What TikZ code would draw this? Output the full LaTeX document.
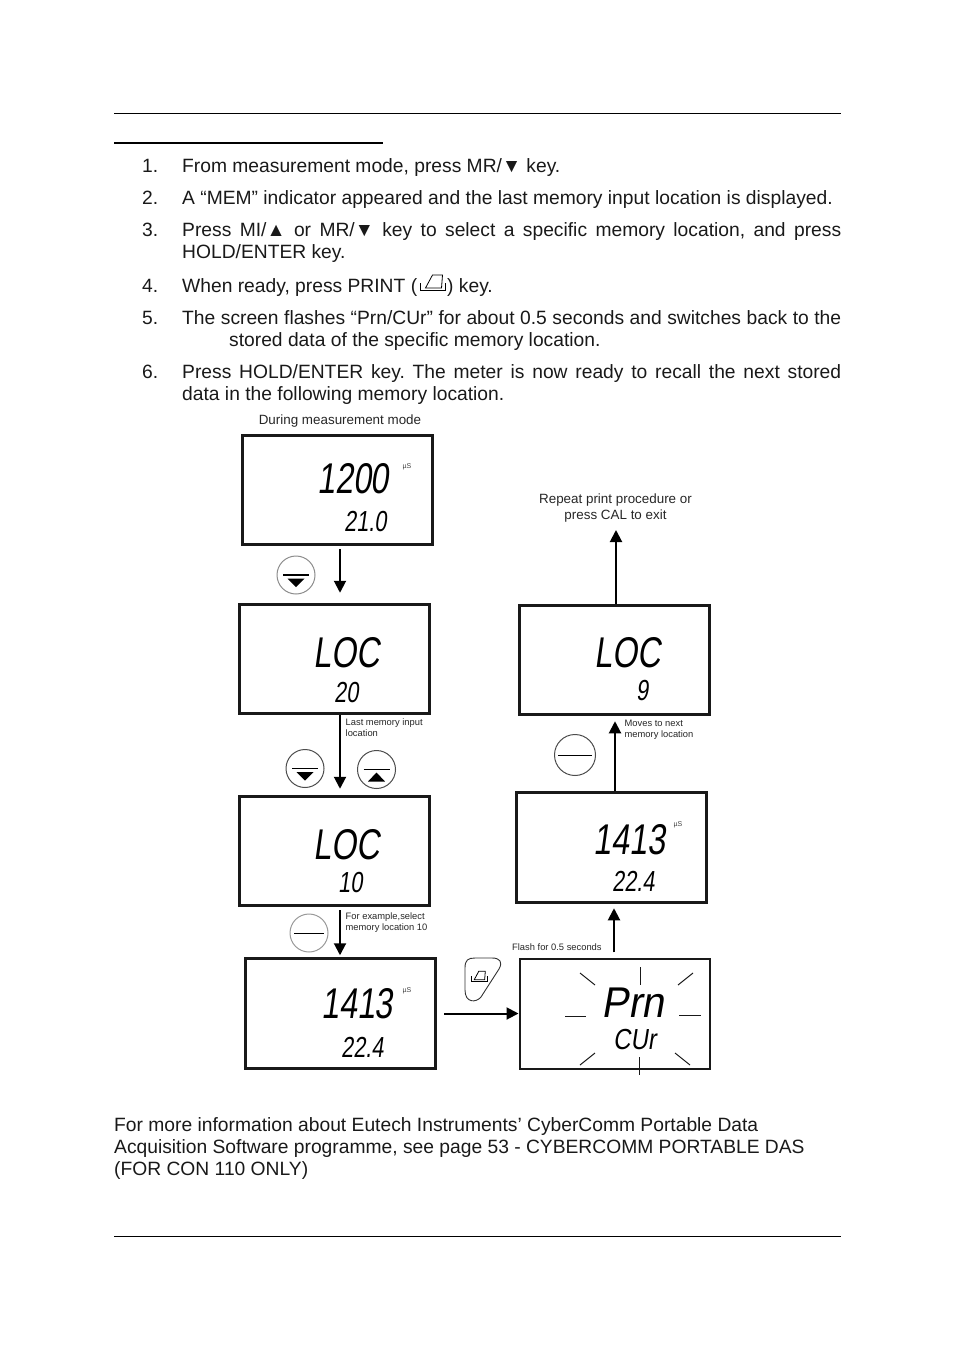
\documentclass[tikz,border=0pt]{standalone}
\usepackage{fontspec}
\setmainfont{Liberation Sans}
\newfontfamily\lcdfont[FakeStretch=0.75,FakeSlant=0.14]{Liberation Sans}
\usetikzlibrary{arrows.meta}
\frenchspacing
\newcommand{\printicon}[3]{%
  \begin{scope}[shift={(#1,#2)},scale=#3]
    \draw[line width=0.8pt] (0,-7) -- (0,0) -- (25,0) -- (25,-7);
    \draw[line width=0.8pt] (5,-2) -- (12,-15) -- (22,-15) -- (21,-2) -- cycle;
  \end{scope}}

\begin{document}
\begin{tikzpicture}[
  x=1pt,
  y=-1pt,
  line join=miter,
  body/.style={anchor=base west,inner sep=0pt,font=\fontsize{19.25}{22}\selectfont,text=black!90},
  caption/.style={inner sep=0pt,align=center,font=\fontsize{13.4}{16}\selectfont,text=black!85},
  note/.style={anchor=west,inner sep=0pt,align=left,font=\fontsize{9.35}{11}\selectfont,text=black!85},
  unit/.style={inner sep=0pt,font=\fontsize{7}{8}\selectfont,text=black!75},
  lcdbox/.style={draw=black!90,line width=3pt,minimum width=190pt,minimum height=109.5pt,inner sep=0pt},
  flashbox/.style={lcdbox,line width=2pt},
  lcdbig/.style={anchor=base west,inner sep=0pt,font=\lcdfont\fontsize{43}{43}\selectfont},
  lcdsmall/.style={anchor=base west,inner sep=0pt,font=\lcdfont\fontsize{29}{29}\selectfont},
  keyring/.style={circle,draw=#1,line width=1pt,minimum size=38pt,inner sep=0pt},
  keybar/.style={line width=1.3pt},
  ray/.style={draw=black!90,line width=1pt},
  flow/.style={draw=black,line width=2pt,-{Triangle[length=12pt,width=12pt]}}
]
  \useasboundingbox (0,0) rectangle (954,1351);

  % Page rules.
  \draw[line width=1pt] (114,113.5) -- (841,113.5);
  \draw[line width=2pt] (114,143.5) -- (383,143.5);
  \draw[line width=1pt] (114,1236.5) -- (841,1236.5);

  % Numbered steps.
  \foreach \n/\y in {1/172.5,2/204.5,3/236,4/292,5/324,6/378} {
    \node[body] (num\n) at (142,\y) {\n.};
  }
  \node[body] (stepa) at (182,172.5) {From measurement mode, press MR/▼ key.};
  \node[body] (stepb) at (182,204.5) {A “MEM” indicator appeared and the last memory input location is displayed.};
  \node[body] (stepc) at (182,236) {\makebox[659pt][s]{Press MI/▲ or MR/▼ key to select a specific memory location, and press}};
  \node[body] (stepcc) at (182,258) {HOLD/ENTER key.};
  \node[body] (stepd) at (182,292) {When ready, press PRINT (\hspace{30pt}) key.};
  \printicon{420.5}{290}{1}
  \node[body] (stepe) at (182,324) {\makebox[659pt][s]{The screen flashes “Prn/CUr” for about 0.5 seconds and switches back to the}};
  \node[body] (stepee) at (229,346) {stored data of the specific memory location.};
  \node[body] (stepf) at (182,378) {\makebox[659pt][s]{Press HOLD/ENTER key. The meter is now ready to recall the next stored}};
  \node[body] (stepff) at (182,400) {data in the following memory location.};

  % Display panels.
  \foreach \n/\x/\y in {measbox/337.5/490,locboxa/334.5/659,locboxb/334.5/851,readboxa/340.5/1013.5,readboxb/611.5/847.5,locboxc/614.5/660} {
    \node[lcdbox] (\n) at (\x,\y) {};
  }
  \node[flashbox] (flashbox) at (614.5,1014) {};

  % Readouts.
  \node[lcdbig] (reada) at (317,493) {1200};
  \node[lcdsmall] (tempa) at (344,531) {21.0};
  \node[lcdbig] (loca) at (313,667) {LOC};
  \node[lcdsmall] (numa) at (334,702) {20};
  \node[lcdbig] (locb) at (313,859) {LOC};
  \node[lcdsmall] (numb) at (338,892) {10};
  \node[lcdbig] (readb) at (321,1018) {1413};
  \node[lcdsmall] (tempb) at (341,1057) {22.4};
  \node[lcdbig] (readc) at (593,854) {1413};
  \node[lcdsmall] (tempc) at (612,891) {22.4};
  \node[lcdbig] (locc) at (594,667) {LOC};
  \node[lcdsmall] (numc) at (636,700) {9};
  \node[lcdbig,xscale=1.25] (prn) at (601,1017) {Prn};
  \node[lcdsmall,xscale=1.1] (cur) at (613,1049) {CUr};

  \node[unit] (unita) at (407,467) {µS};
  \node[unit] (unitb) at (407,991) {µS};
  \node[unit] (unitc) at (678,825) {µS};

  % Flash marks round the blinking display.
  \foreach \a/\b/\c/\d in {640/967/640/985,580/973/595/985,693/973/678/985,565/1016/586/1016,679/1015/701/1015,580/1065/595/1053,675/1053/690/1065,639/1057/639/1075} {
    \draw[ray] (\a,\b) -- (\c,\d);
  }

  % Keys.
  \node[keyring=black!45] (keydowna) at (296,575) {};
  \node[keyring=black!70] (keydownb) at (305,768.5) {};
  \node[keyring=black!70] (keyup) at (376.5,769.5) {};
  \node[keyring=black!40] (keyentera) at (309,933) {};
  \node[keyring=black!70,minimum size=41pt] (keyenterb) at (575,755) {};

  \foreach \k in {keydowna,keydownb} {
    \draw[keybar] ([xshift=-13pt]\k.center) -- ([xshift=13pt]\k.center);
    \fill ([xshift=-8.5pt,yshift=-3.5pt]\k.center) -- ++(17,0) -- ++(-8.5,8.5) -- cycle;
  }
  \draw[keybar] ([xshift=-13pt]keyup.center) -- ([xshift=13pt]keyup.center);
  \fill ([xshift=-8.5pt,yshift=-12pt]keyup.center) -- ++(17,0) -- ++(-8.5,-9) -- cycle;
  \draw[line width=1pt] ([xshift=-15pt]keyentera.center) -- ([xshift=15pt]keyentera.center);
  \draw[line width=1pt] ([xshift=-17pt]keyenterb.center) -- ([xshift=17pt]keyenterb.center);

  % Print key.
  \draw[line width=0.9pt,draw=black!80] (465,968) .. controls (465,960) and (468,958) .. (475,958) -- (492,958) .. controls (500,958) and (503,962) .. (499,969) -- (481,997) .. controls (476,1003) and (465,1003) .. (465,990) -- cycle;
  \printicon{471}{981}{0.65}

  % Captions.
  \node[caption] (capmeas) at (340,421) {During measurement mode};
  \node[caption] (caprepeat) at (615.5,508) {Repeat print procedure or\\press CAL to exit};
  \node[note] (notelast) at (345.5,727.5) {Last memory input\\location};
  \node[note] (noteselect) at (345.5,922.5) {For example,select\\memory location 10};
  \node[note] (notenext) at (624.5,730) {Moves to next\\memory location};
  \node[note] (noteflash) at (512,947.5) {Flash for 0.5 seconds};

  % Flow between the panels.
  \coordinate (exit) at (616,530);
  \draw[flow] ([xshift=2.5pt,yshift=-3pt]measbox.south) -- ([xshift=5.5pt,yshift=10pt]locboxa.north);
  \draw[flow] ([xshift=5.5pt]locboxa.south) -- ([xshift=5.5pt,yshift=6pt]locboxb.north);
  \draw[flow] ([xshift=5.5pt,yshift=-3pt]locboxb.south) -- ([xshift=-0.5pt,yshift=2pt]readboxa.north);
  \draw[flow] ([xshift=7pt]readboxa.east) -- ([yshift=0.5pt]flashbox.west);
  \draw[flow] ([xshift=-0.5pt,yshift=6pt]flashbox.north) -- ([xshift=2.5pt,yshift=-4.5pt]readboxb.south);
  \draw[flow] ([xshift=3.5pt]readboxb.north) -- ([xshift=0.5pt,yshift=-5pt]locboxc.south);
  \draw[flow] ([xshift=1.5pt]locboxc.north) -- (exit);

  % Closing paragraph.
  \node[body] (parta) at (114,1131) {For more information about Eutech Instruments’ CyberComm Portable Data};
  \node[body] (partb) at (114,1153) {Acquisition Software programme, see page 53 - CYBERCOMM PORTABLE DAS};
  \node[body] (partc) at (114,1175) {(FOR CON 110 ONLY)};
\end{tikzpicture}
\end{document}
